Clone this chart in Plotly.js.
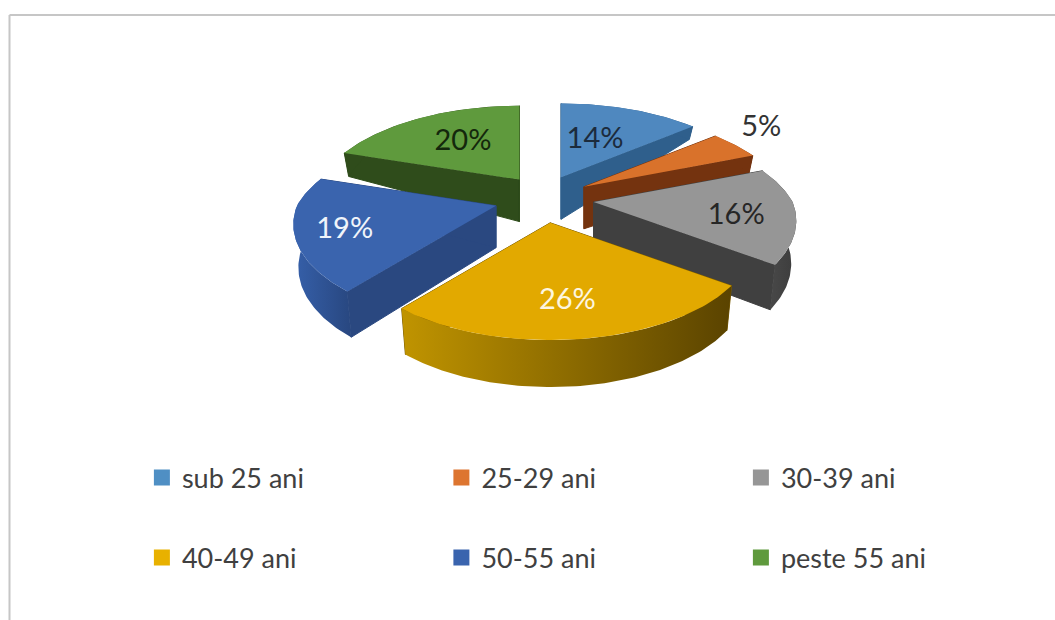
<!DOCTYPE html>
<html><head><meta charset="utf-8">
<script src="https://cdn.plot.ly/plotly-3.0.1.min.js"></script>
<style>html,body{margin:0;padding:0;background:#fff}#c{width:1055px;height:620px}</style>
</head><body><div id="c"></div>
<script>
// --- data ---
const categories = ['sub 25 ani','25-29 ani','30-39 ani','40-49 ani','50-55 ani','peste 55 ani'];
const values = [14,5,16,26,19,20];

// --- styles ---
const topColors  = ['#4f88bf','#d9722b','#969696','#e2a900','#3a64ae','#5f9a3d'];
const sideColors = ['#2f5f8c','#74330f','#404040','#7a5b00','#2a4880','#2f4c1b'];
const rimGradients = {
  2:['#4e4e4e','#3c3c3c'],
  3:['#c09400','#5a4300'],
  4:['#3660aa','#284780']
};
const labelColors = ['#1c2b3c','#333333','#262626','#fdf6e0','#f0f4fa','#14280c'];
const legendMarkerColors = ['#4f8fc4','#dd7530','#969696','#e8b100','#3a64ae','#5f9a3d'];

// --- projection of the exploded disc (a perspective view) ---
const view = {cx:544, cy:199, R:199, Bback:93, Bfront:95, pback:0.26, pfront:0.19, ex:50, ey:24};
const labelRadius = [0.56,1.2,0.72,0.64,0.75,0.58];
const labelNudgeX = [-8,0,-2,-1,-2,4];
const labelNudgeY = [5,-9,6,10,4,2];
const drawOrder = [5,0,1,2,4,3];

const rad = d => d*Math.PI/180;
const total = values.reduce((a,b)=>a+b,0);
let acc = 0;
const slices = values.map(v=>{const a0=acc/total*360; acc+=v; return {a0,a1:acc/total*360,mid:(a0+acc/total*360)/2};});

function project(slice,theta,r){
  const u=r*Math.sin(rad(theta)), w=r*Math.cos(rad(theta));
  const s=1/(1+(w>0?view.pback:view.pfront)*w);
  const b=w>0?view.Bback:view.Bfront;
  const cm=Math.cos(rad(slice.mid));
  const shrink=cm>0?1/(1+0.3*cm*cm):1;
  const ox=view.cx+view.ex*Math.sin(rad(slice.mid))*shrink;
  const oy=view.cy-view.ey*cm;
  return {x:ox+view.R*u*s, y:oy-b*w*s, dx:view.R*u*s, w};
}
function lower(pt){
  const d = pt.w>0 ? Math.max(13,42-60*pt.w) : 42-5*pt.w;
  return {x:pt.x-0.025*pt.dx, y:pt.y+d};
}
function arc(slice){
  const pts=[]; const n=Math.ceil(slice.a1-slice.a0);
  for(let i=0;i<=n;i++) pts.push(project(slice,slice.a0+(slice.a1-slice.a0)*i/n,1));
  return pts;
}
function poly(pts,extra){
  return Object.assign({type:'scatter',mode:'lines',x:pts.map(p=>p.x).concat(pts[0].x),y:pts.map(p=>p.y).concat(pts[0].y),
    fill:'toself',line:{width:0},hoverinfo:'skip',showlegend:false},extra);
}

const traces=[];
drawOrder.forEach(i=>{
  const sl=slices[i], apex=project(sl,0,0), rim=arc(sl), side=sideColors[i];
  const c0=rim[0], c1=rim[rim.length-1];
  [c0,c1].forEach(c=>traces.push(poly([apex,c,lower(c),lower(apex)],{fillcolor:side,line:{width:1,color:side}})));
  const wall=rim.concat(rim.map(lower).reverse());
  const extra={fillcolor:side};
  if(rimGradients[i]){
    const xs=wall.map(p=>p.x);
    extra.fillgradient={type:'horizontal',start:Math.min(...xs),stop:Math.max(...xs),
      colorscale:[[0,rimGradients[i][0]],[1,rimGradients[i][1]]]};
  }
  traces.push(poly(wall,extra));
  traces.push(poly([apex].concat(rim),{fillcolor:topColors[i]}));
});

const lab=slices.map((sl,i)=>{const p=project(sl,sl.mid,labelRadius[i]);return {x:p.x+labelNudgeX[i],y:p.y+labelNudgeY[i]};});
traces.push({type:'scatter',mode:'text',x:lab.map(p=>p.x),y:lab.map(p=>p.y),
  text:values.map(v=>v+'%'),textposition:'middle center',
  textfont:{family:'Lato, Carlito, sans-serif',size:29,color:labelColors},hoverinfo:'skip',showlegend:false});

categories.forEach((name,i)=>traces.push({type:'scatter',mode:'markers',x:[null],y:[null],name,
  marker:{symbol:'square',size:16,color:legendMarkerColors[i]},legend:i<3?'legend':'legend2',hoverinfo:'skip'}));

const legendBase={orientation:'h',entrywidth:254.5,entrywidthmode:'pixels',xanchor:'left',yanchor:'middle',x:0.1345,
  bgcolor:'rgba(0,0,0,0)',font:{family:'Lato, Carlito, sans-serif',size:27,color:'#404040'},traceorder:'normal',itemclick:false,itemdoubleclick:false};

Plotly.newPlot('c',traces,{
  width:1055,height:620,margin:{l:0,r:0,t:0,b:0},paper_bgcolor:'#fff',plot_bgcolor:'#fff',showlegend:true,
  xaxis:{range:[0,1055],visible:false,fixedrange:true},
  yaxis:{range:[620,0],visible:false,fixedrange:true},
  legend:Object.assign({},legendBase,{y:1-478/620}),
  legend2:Object.assign({},legendBase,{y:1-558/620}),
  shapes:[
    {type:'line',xref:'paper',yref:'paper',x0:9.5/1055,x1:1,y0:1-15/620,y1:1-15/620,line:{color:'#c6c6c6',width:2}},
    {type:'line',xref:'paper',yref:'paper',x0:9.5/1055,x1:9.5/1055,y0:1-15/620,y1:0,line:{color:'#c6c6c6',width:2}}
  ]
},{displayModeBar:false,staticPlot:true});
</script></body></html>
